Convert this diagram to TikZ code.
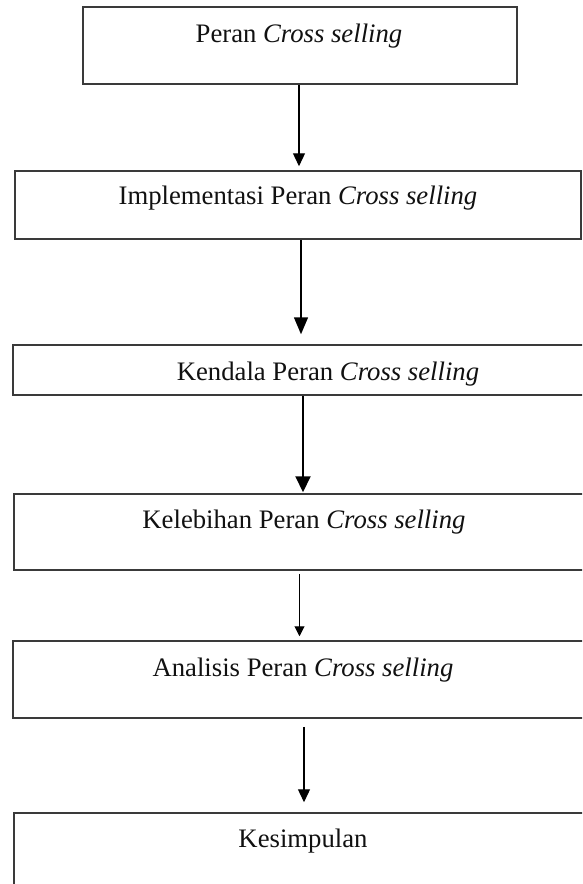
\documentclass[tikz,border=0pt]{standalone}
\usepackage{fontspec}
\setmainfont{Liberation Serif}
\usetikzlibrary{arrows.meta}
\definecolor{boxgray}{HTML}{3A3A3A}
\definecolor{txt}{HTML}{111111}
\begin{document}
\begin{tikzpicture}[x=1pt,y=-1pt,
  box/.style={draw=boxgray, line width=1.5pt, rectangle, inner sep=0pt},
  lbl/.style={inner sep=0pt, anchor=base, text=txt, font=\fontsize{26.7}{32}\selectfont},
  arr/.style={draw=black, line width=1.3pt}]
\useasboundingbox (0,0) rectangle (582,884);
\fill[white] (0,0) rectangle (582,884);
\clip (0,0) rectangle (582,884);
% boxes
\node[box, minimum width=434pt, minimum height=77pt] (b1) at (300,45.5) {};
\node[box, minimum width=566pt, minimum height=68pt] (b2) at (298,205) {};
\node[box, minimum width=590pt, minimum height=50pt] (b3) at (308,370) {};
\node[box, minimum width=590pt, minimum height=76pt] (b4) at (309,532) {};
\node[box, minimum width=590pt, minimum height=77pt] (b5) at (308,679.5) {};
\node[box, minimum width=590pt, minimum height=90pt] (b6) at (309,858) {};
% labels
\node[lbl] (t1) at (299,42) {Peran \textit{Cross selling}};
\node[lbl] (t2) at (298,204) {Implementasi Peran \textit{Cross selling}};
\node[lbl] (t3) at (328,380) {Kendala Peran \textit{Cross selling}};
\node[lbl] (t4) at (304,528) {Kelebihan Peran \textit{Cross selling}};
\node[lbl] (t5) at (303,676) {Analisis Peran \textit{Cross selling}};
\node[lbl] (t6) at (303,847) {Kesimpulan};
% arrow columns
\coordinate (c1) at (299,0);
\coordinate (c2) at (301,0);
\coordinate (c3) at (303,0);
\coordinate (c4) at (299.5,0);
\coordinate (c5) at (304,0);
% connectors
\draw[arr, -{Triangle[width=12pt,length=13pt]}, shorten >=4pt]
  (b1.south -| c1) -- (b2.north -| c1);
\draw[arr, line width=1.5pt, -{Triangle[width=14pt,length=17pt]}, shorten >=10pt]
  (b2.south -| c2) -- (b3.north -| c2);
\draw[arr, line width=2pt, -{Triangle[width=15pt,length=16pt]}, shorten >=1pt]
  (b3.south -| c3) -- (b4.north -| c3);
\draw[arr, line width=1pt, -{Triangle[width=10pt,length=10pt]}, shorten <=3pt, shorten >=4pt]
  (b4.south -| c4) -- (b5.north -| c4);
\draw[arr, line width=1.3pt, -{Triangle[width=12pt,length=13pt]}, shorten <=8pt, shorten >=10pt]
  (b5.south -| c5) -- (b6.north -| c5);
\end{tikzpicture}
\end{document}
